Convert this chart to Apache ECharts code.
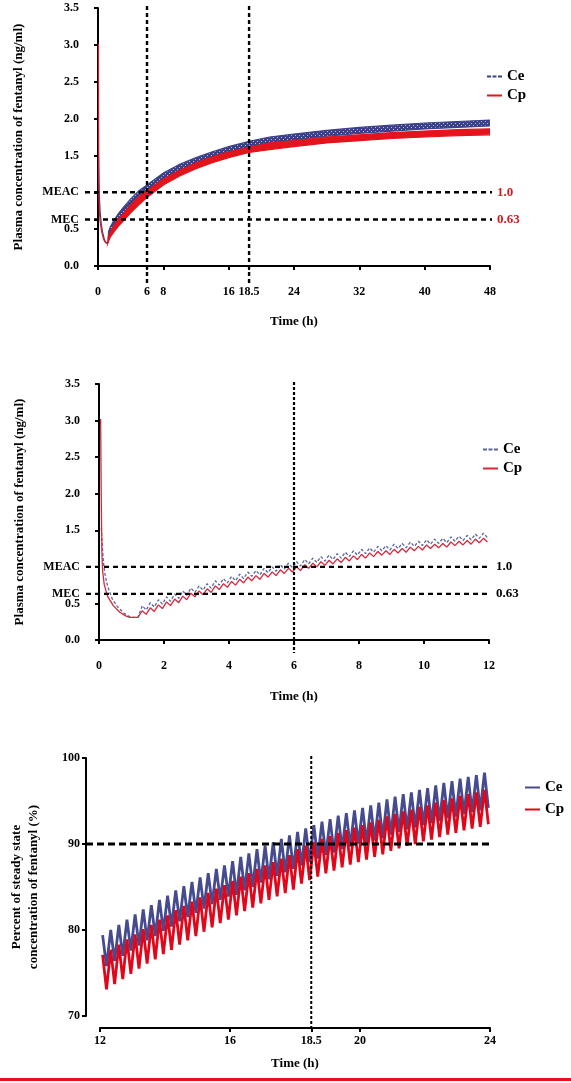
<!DOCTYPE html>
<html>
<head>
<meta charset="utf-8">
<title>Fentanyl concentration</title>
<script src="https://cdn.jsdelivr.net/npm/echarts@6/dist/echarts.min.js"></script>
<style>
html, body { margin: 0; padding: 0; background: #fff; }
#main { width: 571px; height: 1083px; }
</style>
</head>
<body>
<div id="main"></div>
<script>
// ---- data ----
// initial bolus decay (shared by the 0-48 h and 0-12 h panels), ng/ml
var CP_INIT_T = [0.05, 0.07, 0.09, 0.11, 0.16, 0.26, 0.44, 0.64, 0.82, 0.95, 1.2];
var CP_INIT = [3.02, 1.9, 1.2, 0.95, 0.76, 0.6, 0.47, 0.38, 0.33, 0.31, 0.31];
var CE_INIT_T = [0.07, 0.1, 0.14, 0.18, 0.26, 0.4, 0.56, 0.76, 0.97, 1.2];
var CE_INIT = [1.53, 1.28, 1.05, 0.91, 0.74, 0.57, 0.46, 0.37, 0.31, 0.31];

// panel 1 (0-48 h): band envelopes, ng/ml
var P1_T = [1.2, 1.3, 1.5, 2, 2.5, 3, 4, 5, 6, 8, 10, 12, 14, 16, 18.5, 21, 24, 28, 32, 36, 40, 44, 48];
var CE1_HI = [0.31, 0.47, 0.53, 0.63, 0.71, 0.78, 0.91, 1.02, 1.10, 1.26, 1.38, 1.47, 1.55, 1.62, 1.69, 1.75, 1.79, 1.84, 1.88, 1.91, 1.94, 1.96, 1.98];
var CE1_LO = [0.31, 0.40, 0.45, 0.55, 0.63, 0.70, 0.83, 0.94, 1.02, 1.18, 1.30, 1.40, 1.48, 1.55, 1.62, 1.67, 1.71, 1.76, 1.80, 1.83, 1.86, 1.88, 1.90];
var CP1_HI = [0.31, 0.41, 0.46, 0.56, 0.64, 0.70, 0.83, 0.94, 1.02, 1.18, 1.30, 1.40, 1.48, 1.55, 1.61, 1.67, 1.70, 1.75, 1.78, 1.81, 1.83, 1.85, 1.86];
var CP1_LO = [0.31, 0.34, 0.39, 0.47, 0.54, 0.60, 0.72, 0.83, 0.93, 1.10, 1.22, 1.32, 1.40, 1.47, 1.54, 1.58, 1.62, 1.67, 1.70, 1.73, 1.75, 1.77, 1.78];

// panel 2 (0-12 h): 15-min dosing peaks / troughs, ng/ml
var T2_PEAK = [1.33, 1.58, 1.83, 2.08, 2.33, 2.58, 2.83, 3.08, 3.33, 3.58, 3.83, 4.08, 4.33, 4.58, 4.83,
  5.08, 5.33, 5.58, 5.83, 6.08, 6.33, 6.58, 6.83, 7.08, 7.33, 7.58, 7.83, 8.08, 8.33, 8.58, 8.83,
  9.08, 9.33, 9.58, 9.83, 10.08, 10.33, 10.58, 10.83, 11.08, 11.33, 11.58, 11.83];
var T2_TROUGH = [1.45, 1.7, 1.95, 2.2, 2.45, 2.7, 2.95, 3.2, 3.45, 3.7, 3.95, 4.2, 4.45, 4.7, 4.95,
  5.2, 5.45, 5.7, 5.95, 6.2, 6.45, 6.7, 6.95, 7.2, 7.45, 7.7, 7.95, 8.2, 8.45, 8.7, 8.95,
  9.2, 9.45, 9.7, 9.95, 10.2, 10.45, 10.7, 10.95, 11.2, 11.45, 11.7, 11.95];
var CE2_PEAK = [0.47, 0.51, 0.55, 0.59, 0.63, 0.67, 0.71, 0.74, 0.77, 0.81, 0.84, 0.87, 0.90, 0.93, 0.95,
  0.98, 1.00, 1.03, 1.05, 1.07, 1.10, 1.12, 1.14, 1.16, 1.18, 1.20, 1.22, 1.24, 1.26, 1.28, 1.29,
  1.31, 1.32, 1.34, 1.35, 1.37, 1.38, 1.39, 1.41, 1.42, 1.43, 1.45, 1.46];
var CE2_TROUGH = [0.41, 0.45, 0.49, 0.53, 0.57, 0.61, 0.65, 0.68, 0.71, 0.75, 0.78, 0.81, 0.84, 0.87, 0.89,
  0.92, 0.94, 0.97, 0.99, 1.01, 1.04, 1.06, 1.08, 1.10, 1.12, 1.14, 1.16, 1.18, 1.20, 1.22, 1.23,
  1.25, 1.26, 1.28, 1.29, 1.31, 1.32, 1.33, 1.35, 1.36, 1.37, 1.39, 1.40];
var CP2_PEAK = [0.40, 0.44, 0.48, 0.52, 0.56, 0.60, 0.64, 0.67, 0.70, 0.74, 0.77, 0.80, 0.83, 0.86, 0.88,
  0.91, 0.93, 0.96, 0.98, 1.00, 1.03, 1.05, 1.07, 1.09, 1.11, 1.13, 1.15, 1.17, 1.19, 1.21, 1.22,
  1.24, 1.25, 1.27, 1.28, 1.30, 1.31, 1.32, 1.34, 1.35, 1.36, 1.38, 1.39];
var CP2_TROUGH = [0.35, 0.39, 0.43, 0.47, 0.51, 0.55, 0.59, 0.62, 0.65, 0.69, 0.72, 0.75, 0.78, 0.81, 0.83,
  0.86, 0.88, 0.91, 0.93, 0.95, 0.98, 1.00, 1.02, 1.04, 1.06, 1.08, 1.10, 1.12, 1.14, 1.16, 1.17,
  1.19, 1.20, 1.22, 1.23, 1.25, 1.26, 1.27, 1.29, 1.30, 1.31, 1.33, 1.34];

// panel 3 (12-24 h): percent of steady state
var T3_PEAK = [12.08, 12.33, 12.58, 12.83, 13.08, 13.33, 13.58, 13.83, 14.08, 14.33, 14.58, 14.83,
  15.08, 15.33, 15.58, 15.83, 16.08, 16.33, 16.58, 16.83, 17.08, 17.33, 17.58, 17.83,
  18.08, 18.33, 18.58, 18.83, 19.08, 19.33, 19.58, 19.83, 20.08, 20.33, 20.58, 20.83,
  21.08, 21.33, 21.58, 21.83, 22.08, 22.33, 22.58, 22.83, 23.08, 23.33, 23.58, 23.83];
var T3_TROUGH = [12.2, 12.45, 12.7, 12.95, 13.2, 13.45, 13.7, 13.95, 14.2, 14.45, 14.7, 14.95,
  15.2, 15.45, 15.7, 15.95, 16.2, 16.45, 16.7, 16.95, 17.2, 17.45, 17.7, 17.95,
  18.2, 18.45, 18.7, 18.95, 19.2, 19.45, 19.7, 19.95, 20.2, 20.45, 20.7, 20.95,
  21.2, 21.45, 21.7, 21.95, 22.2, 22.45, 22.7, 22.95, 23.2, 23.45, 23.7, 23.95];
var CE3_PEAK = [79.4, 80.0, 80.6, 81.2, 81.8, 82.4, 82.9, 83.5, 84.0, 84.6, 85.1, 85.6,
  86.1, 86.6, 87.1, 87.5, 88.0, 88.5, 88.9, 89.4, 89.8, 90.2, 90.6, 91.0,
  91.4, 91.8, 92.2, 92.6, 92.9, 93.3, 93.6, 93.9, 94.2, 94.5, 94.8, 95.2,
  95.5, 95.8, 96.0, 96.3, 96.5, 96.8, 97.1, 97.3, 97.6, 97.8, 98.0, 98.3];
var CE3_TROUGH = [75.8, 76.4, 77.0, 77.6, 78.2, 78.8, 79.3, 79.9, 80.4, 81.0, 81.5, 82.0,
  82.5, 83.0, 83.5, 83.9, 84.1, 84.6, 85.0, 85.5, 85.9, 86.3, 86.7, 87.1,
  87.5, 87.9, 88.3, 88.7, 89.0, 89.4, 89.7, 90.0, 90.1, 90.4, 90.7, 91.1,
  91.4, 91.7, 91.9, 92.2, 92.4, 92.7, 93.0, 93.2, 93.5, 93.7, 93.9, 94.2];
var CP3_PEAK = [77.1, 77.7, 78.3, 78.9, 79.5, 80.1, 80.6, 81.2, 81.7, 82.3, 82.8, 83.3,
  83.8, 84.3, 84.8, 85.2, 85.7, 86.2, 86.6, 87.1, 87.5, 87.9, 88.3, 88.7,
  89.4, 89.8, 90.2, 90.6, 90.9, 91.3, 91.6, 91.9, 92.2, 92.5, 92.8, 93.2,
  93.5, 93.8, 94.0, 94.3, 94.5, 94.8, 95.1, 95.3, 95.6, 95.8, 96.0, 96.3];
var CP3_TROUGH = [73.1, 73.7, 74.3, 74.9, 75.5, 76.1, 76.6, 77.2, 77.7, 78.3, 78.8, 79.3,
  79.8, 80.3, 80.8, 81.2, 81.7, 82.2, 82.6, 83.1, 83.5, 83.9, 84.3, 84.7,
  85.4, 85.8, 86.2, 86.6, 86.9, 87.3, 87.6, 87.9, 88.2, 88.5, 88.8, 89.2,
  89.5, 89.8, 90.0, 90.3, 90.5, 90.8, 91.1, 91.3, 91.6, 91.8, 92.0, 92.3];

// axis ticks / reference levels
var X1_TICKS = [0, 6, 8, 16, 18.5, 24, 32, 40, 48];
var X3_TICKS = [12, 16, 18.5, 20, 24];
var Y_CONC_TICKS = [0, 0.5, 0.63, 1, 1.5, 2, 2.5, 3, 3.5];
var MEAC = 1.0, MEC = 0.63;

var SERIF = '"Liberation Serif", "Times New Roman", serif';
var NAVY1 = '#3b4189', RED1 = '#e3141c';
var NAVY2 = '#5a6699', RED2 = '#d8283c';
var NAVY3 = '#464b8f', RED3 = '#e2061a';
var ICON_DASH = 'path://M0,0H4V2H0Z M5.5,0H9.5V2H5.5Z M11,0H15V2H11Z';
var ICON_LINE = 'path://M0,0H15V2H0Z';

function pairs(t, v) {
  var out = [];
  for (var i = 0; i < t.length; i++) out.push([t[i], v[i]]);
  return out;
}
function zigzag(tp, vp, tt, vt) {
  var out = [];
  for (var i = 0; i < tp.length; i++) {
    out.push([tp[i], vp[i]]);
    out.push([tt[i], vt[i]]);
  }
  return out;
}

// hatched fill for the Ce band (dense zigzag look)
var pat = document.createElement('canvas');
pat.width = 4; pat.height = 4;
var pc = pat.getContext('2d');
pc.fillStyle = NAVY1; pc.fillRect(0, 0, 4, 4);
pc.fillStyle = '#b4b8dc'; pc.fillRect(1, 1, 1, 1); pc.fillRect(3, 3, 1, 1);

var labelFont = { fontFamily: SERIF, fontWeight: 'bold', fontSize: 12, color: '#000' };
var titleFont = { fontFamily: SERIF, fontWeight: 'bold', fontSize: 13, color: '#000' };

function concLabel(v) {
  if (Math.abs(v - MEAC) < 1e-6) return 'MEAC';
  if (Math.abs(v - MEC) < 1e-6) return 'MEC';
  return v.toFixed(1);
}

function axisBase(extra) {
  var a = {
    type: 'value',
    splitLine: { show: false },
    axisLine: { show: true, lineStyle: { color: '#000', width: 2 } },
    axisTick: { show: true, length: 4, lineStyle: { color: '#000', width: 2 } },
    axisLabel: Object.assign({ margin: 6 }, labelFont),
    nameTextStyle: titleFont,
    nameLocation: 'middle'
  };
  for (var k in extra) {
    if (typeof extra[k] === 'object' && a[k] && !Array.isArray(extra[k])) a[k] = Object.assign({}, a[k], extra[k]);
    else a[k] = extra[k];
  }
  return a;
}

// filled band between two envelopes on the 0-48 h panel
function band(name, lo, hi, fill, stroke) {
  return {
    name: name, type: 'custom', xAxisIndex: 0, yAxisIndex: 0, clip: true,
    itemStyle: { color: stroke },
    encode: { x: 0, y: [1, 2] },
    data: P1_T.map(function(t, i) { return [t, lo[i], hi[i]]; }),
    renderItem: function(params, api) {
      if (params.dataIndex !== 0) return null;
      var pts = [], i;
      for (i = 0; i < P1_T.length; i++) pts.push(api.coord([P1_T[i], hi[i]]));
      for (i = P1_T.length - 1; i >= 0; i--) pts.push(api.coord([P1_T[i], lo[i]]));
      return { type: 'polygon', shape: { points: pts },
        style: { fill: fill, stroke: stroke, lineWidth: 1.2 } };
    }
  };
}

function legendCfg(left, top, gap, ce, cp) {
  return {
    left: left, top: top, orient: 'vertical', itemGap: gap, itemWidth: 15, itemHeight: 2,
    selectedMode: false,
    textStyle: { fontFamily: SERIF, fontWeight: 'bold', fontSize: 15, color: '#000' },
    formatter: function(n) { return n.slice(0, 2); },
    data: [ce, cp]
  };
}

var chart = echarts.init(document.getElementById('main'));

var option = {
  backgroundColor: '#fff',
  animation: false,
  grid: [
    { left: 98, top: 8, width: 392, height: 258 },
    { left: 99, top: 384, width: 390, height: 256 },
    { left: 99, top: 758, width: 391, height: 258 }
  ],
  xAxis: [
    axisBase({ gridIndex: 0, min: 0, max: 48, offset: 13, name: 'Time (h)', nameGap: 36,
      axisLabel: { customValues: X1_TICKS, margin: 7 }, axisTick: { customValues: X1_TICKS } }),
    axisBase({ gridIndex: 1, min: 0, max: 12, interval: 2, offset: 13, name: 'Time (h)', nameGap: 37,
      axisLabel: { margin: 7 } }),
    axisBase({ gridIndex: 2, min: 12, max: 24, offset: 12, name: 'Time (h)', nameGap: 29,
      axisLabel: { customValues: X3_TICKS, margin: 7 }, axisTick: { customValues: X3_TICKS } })
  ],
  yAxis: [
    axisBase({ gridIndex: 0, min: 0, max: 3.5, offset: 13, nameGap: 60, nameRotate: 90,
      name: 'Plasma concentration of fentanyl (ng/ml)',
      axisLabel: { customValues: Y_CONC_TICKS, formatter: concLabel }, axisTick: { customValues: Y_CONC_TICKS } }),
    axisBase({ gridIndex: 1, min: 0, max: 3.5, offset: 13, nameGap: 60, nameRotate: 90,
      name: 'Plasma concentration of fentanyl (ng/ml)',
      axisLabel: { customValues: Y_CONC_TICKS, formatter: concLabel }, axisTick: { customValues: Y_CONC_TICKS } }),
    axisBase({ gridIndex: 2, min: 70, max: 100, interval: 10, offset: 14, nameGap: 44, nameRotate: 90,
      name: 'Percent of steady state\nconcentration of fentanyl (%)',
      nameTextStyle: { lineHeight: 17 } })
  ],
  legend: [
    legendCfg(482, 64, 4,
      { name: 'Ce1', icon: ICON_DASH, itemStyle: { color: NAVY1 } },
      { name: 'Cp1', icon: ICON_LINE, itemStyle: { color: RED1 } }),
    legendCfg(478, 437, 4,
      { name: 'Ce2', icon: ICON_DASH, itemStyle: { color: NAVY2 } },
      { name: 'Cp2', icon: ICON_LINE, itemStyle: { color: RED2 } }),
    legendCfg(520, 775, 7,
      { name: 'Ce3', icon: ICON_LINE, itemStyle: { color: NAVY3 } },
      { name: 'Cp3', icon: ICON_LINE, itemStyle: { color: RED3 } })
  ],
  series: [
    // panel 1
    { name: 'Ce1', type: 'line', xAxisIndex: 0, yAxisIndex: 0, symbol: 'none',
      itemStyle: { color: NAVY1 }, lineStyle: { color: NAVY1, width: 1.2 }, data: pairs(CE_INIT_T, CE_INIT) },
    band('Ce1', CE1_LO, CE1_HI, { image: pat, repeat: 'repeat' }, NAVY1),
    { name: 'Cp1', type: 'line', xAxisIndex: 0, yAxisIndex: 0, symbol: 'none',
      itemStyle: { color: RED1 }, lineStyle: { color: RED1, width: 1.2 }, data: pairs(CP_INIT_T, CP_INIT) },
    band('Cp1', CP1_LO, CP1_HI, RED1, RED1),
    // panel 2
    { name: 'Ce2', type: 'line', xAxisIndex: 1, yAxisIndex: 1, symbol: 'none',
      itemStyle: { color: NAVY2 }, lineStyle: { color: NAVY2, width: 1.3, type: [3, 2] },
      data: pairs(CE_INIT_T, CE_INIT).concat(zigzag(T2_PEAK, CE2_PEAK, T2_TROUGH, CE2_TROUGH)) },
    { name: 'Cp2', type: 'line', xAxisIndex: 1, yAxisIndex: 1, symbol: 'none',
      itemStyle: { color: RED2 }, lineStyle: { color: RED2, width: 1.3 },
      data: pairs(CP_INIT_T, CP_INIT).concat(zigzag(T2_PEAK, CP2_PEAK, T2_TROUGH, CP2_TROUGH)) },
    // panel 3
    { name: 'Ce3', type: 'line', xAxisIndex: 2, yAxisIndex: 2, symbol: 'none',
      itemStyle: { color: NAVY3 }, lineStyle: { color: NAVY3, width: 2.8 },
      data: zigzag(T3_PEAK, CE3_PEAK, T3_TROUGH, CE3_TROUGH) },
    { name: 'Cp3', type: 'line', xAxisIndex: 2, yAxisIndex: 2, symbol: 'none',
      itemStyle: { color: RED3 }, lineStyle: { color: RED3, width: 2.8 },
      data: zigzag(T3_PEAK, CP3_PEAK, T3_TROUGH, CP3_TROUGH) }
  ]
};
chart.setOption(option);

// reference lines and their labels, placed through the chart's own scales
var graphics = [];
function toPx(g, x, y) { return chart.convertToPixel({ gridIndex: g }, [x, y]); }
function hRef(g, xMin, xMax, yv, yOff, dash, w) {
  var a = toPx(g, xMin, yv), b = toPx(g, xMax, yv);
  graphics.push({ type: 'line', z: 100, silent: true,
    shape: { x1: a[0] - yOff, y1: a[1], x2: b[0] + 2, y2: b[1] },
    style: { stroke: '#000', lineWidth: w, lineDash: dash } });
  return b;
}
function vRef(g, xv, yMin, yMax, xOff, dash, w) {
  var a = toPx(g, xv, yMax), b = toPx(g, xv, yMin);
  graphics.push({ type: 'line', z: 100, silent: true,
    shape: { x1: a[0], y1: a[1] - 2, x2: b[0], y2: b[1] + xOff + 4 },
    style: { stroke: '#000', lineWidth: w, lineDash: dash } });
}
function sideText(p, txt, color) {
  graphics.push({ type: 'text', z: 100, silent: true, x: p[0] + 7, y: p[1],
    style: { text: txt, fill: color, font: 'bold 13px ' + SERIF, textVerticalAlign: 'middle' } });
}

// panel 1
var p;
p = hRef(0, 0, 48, MEAC, 13, [5, 4], 2.4); sideText(p, '1.0', '#d7191f');
p = hRef(0, 0, 48, MEC, 13, [5, 4], 2.4); sideText(p, '0.63', '#d7191f');
vRef(0, 6, 0, 3.5, 13, [4, 3], 2.4);
vRef(0, 18.5, 0, 3.5, 13, [4, 3], 2.4);
// panel 2
p = hRef(1, 0, 12, MEAC, 13, [5, 4], 2.4); sideText(p, '1.0', '#000');
p = hRef(1, 0, 12, MEC, 13, [5, 4], 2.4); sideText(p, '0.63', '#000');
vRef(1, 6, 0, 3.5, 9, [3, 2], 2.2);
// panel 3
hRef(2, 12, 24, 90, 14, [7, 4], 2.8);
vRef(2, 18.5, 70, 100, 8, [3, 2], 2);

// thin red rule along the bottom edge of the figure
graphics.push({ type: 'rect', z: 100, silent: true, shape: { x: 0, y: 1078, width: 571, height: 3 },
  style: { fill: '#e8101a' } });

chart.setOption({ graphic: graphics });
</script>
</body>
</html>
